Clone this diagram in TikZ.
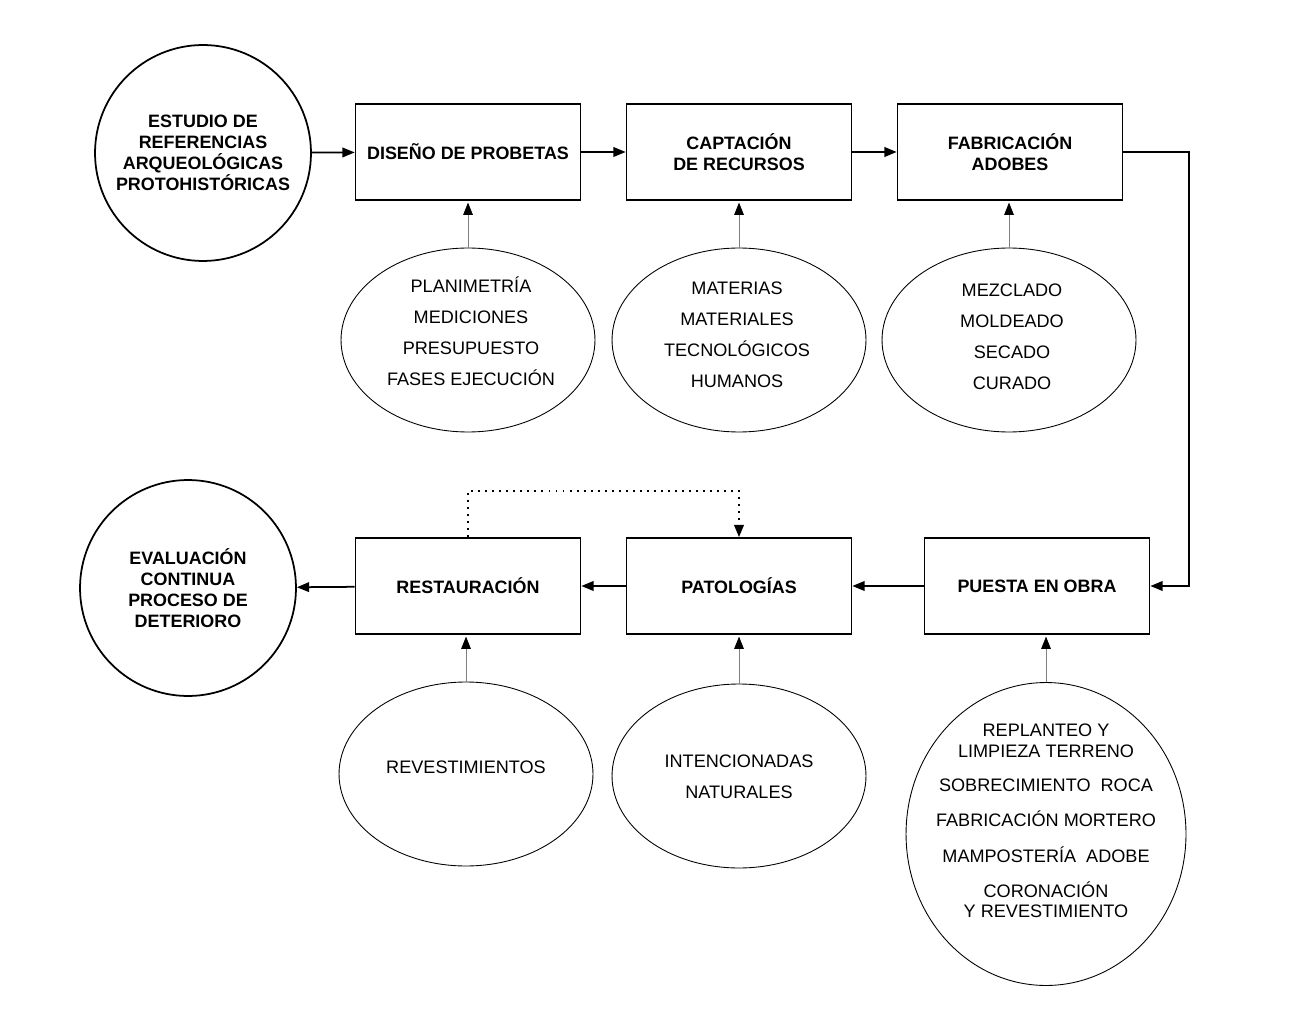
\documentclass[tikz,border=0pt]{standalone}
\usepackage{fontspec}
\setmainfont{Liberation Sans}
\usetikzlibrary{arrows.meta,shapes.geometric}

\begin{document}
\begin{tikzpicture}[x=0.02cm,y=-0.02cm,
    stage/.style={draw,line width=1pt,minimum width=4.5cm,minimum height=1.92cm,
      align=center,font=\bfseries\fontsize{10.2}{11.9}\selectfont},
    origin/.style={draw,circle,line width=1pt,minimum size=4.32cm,inner sep=0pt,
      align=center,font=\bfseries\fontsize{10.2}{11.9}\selectfont},
    detail/.style={draw,ellipse,line width=0.5pt,minimum width=5.08cm,minimum height=3.68cm,inner sep=0pt},
    notes/.style={align=center,font=\fontsize{10.3}{17.6}\selectfont},
    flow/.style={line width=1pt,-{Triangle[length=7pt,width=5.5pt]}},
    feed/.style={gray,line width=0.4pt,shorten >=1pt,-{Triangle[length=7pt,width=5.5pt,color=black]}},
    loopback/.style={line width=1.1pt,dash pattern=on 1.1pt off 2.9pt,-{Triangle[length=7pt,width=5.5pt]}}]
            \useasboundingbox (0,0) rectangle (1300,1023);
            % upper row
            \node[origin] (estudio) at (203,153) {ESTUDIO DE\\REFERENCIAS\\ARQUEOLÓGICAS\\PROTOHISTÓRICAS};
            \node[stage] (diseno) at (468,152) {DISEÑO DE PROBETAS};
            \node[stage] (captacion) at (739,152) {CAPTACIÓN\\DE RECURSOS};
            \node[stage] (fabricacion) at (1010,152) {FABRICACIÓN\\ADOBES};
            \node[detail] (planimetria) at (468,340) {};
            \node[detail] (materias) at (739,340) {};
            \node[detail] (mezclado) at (1009,340) {};
            \node[notes] (planimetriatxt) at (471,331) {PLANIMETRÍA\\MEDICIONES\\PRESUPUESTO\\FASES EJECUCIÓN};
            \node[notes] (materiastxt) at (737,335) {MATERIAS\\MATERIALES\\TECNOLÓGICOS\\HUMANOS};
            \node[notes] (mezcladotxt) at (1012,337) {MEZCLADO\\MOLDEADO\\SECADO\\CURADO};
            % lower row
            \node[origin] (evaluacion) at (188,588) {EVALUACIÓN\\CONTINUA\\PROCESO DE\\DETERIORO};
            \node[stage] (restauracion) at (468,586) {RESTAURACIÓN};
            \node[stage] (patologias) at (739,586) {PATOLOGÍAS};
            \node[stage] (puesta) at (1037,586) {PUESTA EN OBRA};
            \node[detail] (revestimientos) at (466,774) {};
            \node[detail] (intencionadas) at (739,776) {};
            \node[detail,minimum width=5.6cm,minimum height=6.06cm] (replanteo) at (1046,834) {};
            \node[notes] (revestimientostxt) at (466,767) {REVESTIMIENTOS};
            \node[notes] (intencionadastxt) at (739,777) {INTENCIONADAS\\NATURALES};
            \node[notes,font=\fontsize{10.3}{11.6}\selectfont] (replanteotxt) at (1046,821)
              {REPLANTEO Y\\LIMPIEZA TERRENO\\[8pt]SOBRECIMIENTO\ \ ROCA\\[8.5pt]FABRICACIÓN MORTERO\\[9pt]MAMPOSTERÍA\ \ ADOBE\\[8pt]CORONACIÓN\\Y REVESTIMIENTO};
            % main flow
            \draw[flow] (estudio) -- (diseno);
            \draw[flow] (diseno) -- (captacion);
            \draw[flow] (captacion) -- (fabricacion);
            \draw[flow] (fabricacion.east) -- ++(66,0) |- (puesta.east);
            \draw[flow] (puesta) -- (patologias);
            \draw[flow] (patologias) -- (restauracion);
            \draw[flow] (restauracion) -- (evaluacion);
            % inputs
            \draw[feed] (planimetria.north) -- (diseno.south);
            \draw[feed] (materias.north) -- (captacion.south);
            \draw[feed] (mezclado.north) -- (fabricacion.south -| mezclado.north);
            \draw[feed] (revestimientos.north) -- (restauracion.south -| revestimientos.north);
            \draw[feed] (intencionadas.north) -- (patologias.south);
            \draw[feed] (replanteo.north) -- (puesta.south -| replanteo.north);
            \draw[loopback] (restauracion.north) -- ++(0,-46) -| (patologias.north);
        \end{tikzpicture}
\end{document}
